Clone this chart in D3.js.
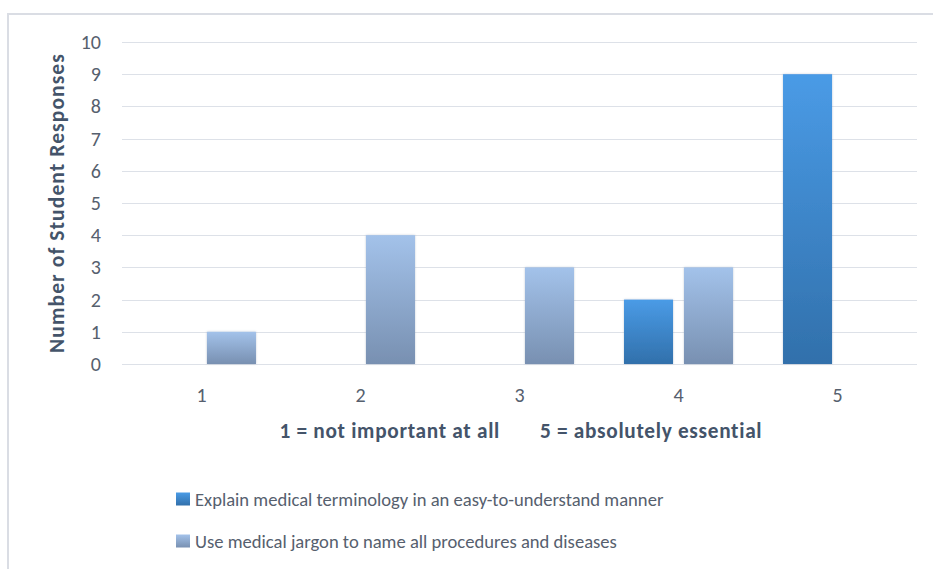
<!DOCTYPE html>
<html>
<head>
<meta charset="utf-8">
<script src="https://cdn.jsdelivr.net/npm/d3@7"></script>
<style>
  html, body { margin: 0; padding: 0; background: #ffffff; }
  svg { display: block; font-family: Carlito, Calibri, Lato, "Open Sans", sans-serif; }
</style>
</head>
<body>
<svg id="chart" width="933" height="569"></svg>
<script>
// ---- data ----
const categories = ["1", "2", "3", "4", "5"];
const seriesNames = [
  "Explain medical terminology in an easy-to-understand manner",
  "Use medical jargon to name all procedures and diseases"
];
const explainValues = [0, 0, 0, 2, 9];
const jargonValues = [1, 4, 3, 3, 0];
const yTicks = [0, 1, 2, 3, 4, 5, 6, 7, 8, 9, 10];
const yTitle = "Number of Student Responses";
const xNoteLeft = "1 = not important at all";
const xNoteRight = "5 = absolutely essential";

// ---- layout ----
const W = 933, H = 569;
const plot = { left: 122, right: 917, top: 42, bottom: 364 };
const textColor = "#56606e";
const titleColor = "#44546a";
const gridColor = "#dde1e8";
const fontFam = "Carlito, Calibri, Lato, 'Open Sans', sans-serif";

const svg = d3.select("#chart");
const defs = svg.append("defs");

const grads = [
  { id: "g0", top: "#4a9be6", bottom: "#3170ab" },
  { id: "g1", top: "#a3c2ea", bottom: "#7890b1" }
];
grads.forEach(g => {
  const lg = defs.append("linearGradient").attr("id", g.id)
    .attr("x1", 0).attr("y1", 0).attr("x2", 0).attr("y2", 1);
  lg.append("stop").attr("offset", "0%").attr("stop-color", g.top);
  lg.append("stop").attr("offset", "100%").attr("stop-color", g.bottom);
});
const f = defs.append("filter").attr("id", "shadow")
  .attr("x", "-20%").attr("y", "-20%").attr("width", "140%").attr("height", "140%");
f.append("feDropShadow").attr("dx", 0).attr("dy", 0).attr("stdDeviation", 1.2)
  .attr("flood-color", "#8090a8").attr("flood-opacity", 0.45);

// outer frame
svg.append("path")
  .attr("d", "M8,569 L8,14 L933,14")
  .attr("fill", "none").attr("stroke", "#dadde4").attr("stroke-width", 2);

// scales
const x0 = d3.scaleBand().domain(categories)
  .range([plot.left, plot.right])
  .paddingInner(0.3145).paddingOuter(0.157);
const x1 = d3.scaleBand().domain([0, 1])
  .range([0, x0.bandwidth()]).paddingInner(0.183).paddingOuter(0);
const y = d3.scaleLinear().domain([0, 10]).range([plot.bottom, plot.top]);

// gridlines
svg.append("g").selectAll("line").data(yTicks).join("line")
  .attr("x1", plot.left).attr("x2", plot.right)
  .attr("y1", d => Math.round(y(d)) + 0.5).attr("y2", d => Math.round(y(d)) + 0.5)
  .attr("stroke", gridColor).attr("stroke-width", 1.2);

// y axis labels via d3 axis
const yAxis = svg.append("g")
  .attr("transform", `translate(${plot.left - 21},0)`)
  .call(d3.axisLeft(y).tickValues(yTicks).tickSize(0).tickPadding(0));
yAxis.select(".domain").remove();
yAxis.selectAll("text")
  .attr("fill", textColor).attr("font-size", 20)
  .attr("font-family", fontFam);

// x axis labels
const xAxis = svg.append("g")
  .attr("transform", `translate(0,${plot.bottom + 24})`)
  .call(d3.axisBottom(x0).tickSize(0).tickPadding(0));
xAxis.select(".domain").remove();
xAxis.selectAll("text")
  .attr("fill", textColor).attr("font-size", 20)
  .attr("font-family", fontFam);

// bars
const seriesValues = [explainValues, jargonValues];
const rows = [];
categories.forEach((c, i) => {
  seriesValues.forEach((vals, s) => rows.push({ cat: c, s, v: vals[i] }));
});
svg.append("g").selectAll("rect").data(rows.filter(d => d.v > 0)).join("rect")
  .attr("x", d => x0(d.cat) + x1(d.s))
  .attr("width", x1.bandwidth())
  .attr("y", d => y(d.v))
  .attr("height", d => y(0) - y(d.v))
  .attr("fill", d => `url(#g${d.s})`)
  .attr("filter", "url(#shadow)");

// y title
svg.append("text")
  .attr("transform", `translate(64,${(plot.top + plot.bottom) / 2 + 0}) rotate(-90)`)
  .attr("text-anchor", "middle")
  .attr("font-size", 21.5).attr("font-weight", "bold")
  .attr("letter-spacing", 1.1)
  .attr("fill", titleColor)
  .text(yTitle);

// x note
const noteY = 438;
svg.append("text")
  .attr("x", 500).attr("y", noteY).attr("text-anchor", "end")
  .attr("font-size", 21.3).attr("font-weight", "bold").attr("letter-spacing", 0.7)
  .attr("fill", titleColor)
  .text(xNoteLeft);
svg.append("text")
  .attr("x", 540).attr("y", noteY).attr("text-anchor", "start")
  .attr("font-size", 21.3).attr("font-weight", "bold").attr("letter-spacing", 0.7)
  .attr("fill", titleColor)
  .text(xNoteRight);

// legend
const legend = svg.append("g");
seriesNames.forEach((name, i) => {
  const ly = 499.5 + i * 42;
  legend.append("rect")
    .attr("x", 176).attr("y", ly - 7).attr("width", 14).attr("height", 13)
    .attr("fill", `url(#g${i})`);
  legend.append("text")
    .attr("x", 195).attr("y", ly + 6.5)
    .attr("font-size", 18.6).attr("fill", textColor)
    .text(name);
});
</script>
</body>
</html>
